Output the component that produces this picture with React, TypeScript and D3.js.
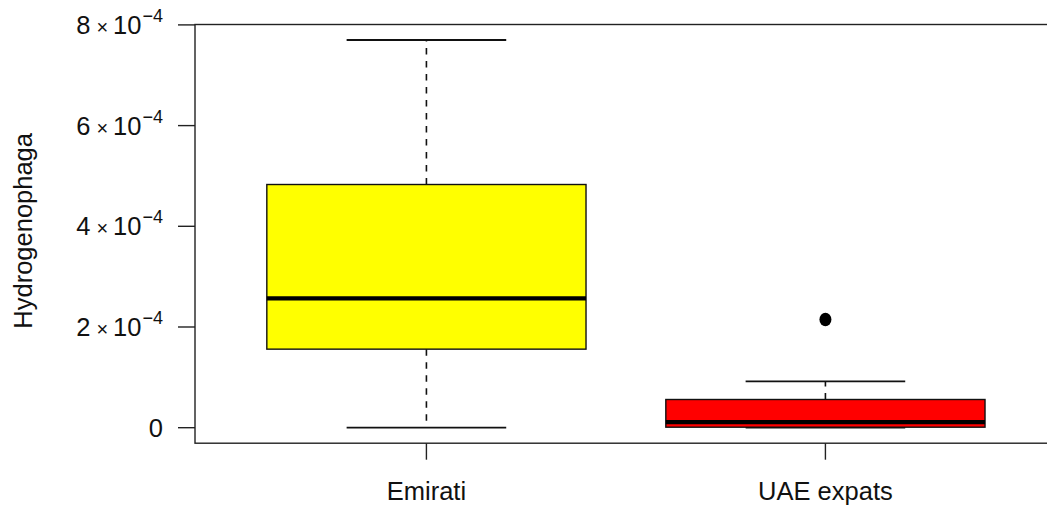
import React from "react";
import * as d3 from "d3";

// Box statistics per group
const groups: string[] = ["Emirati", "UAE expats"];
const lowerWhisker: number[] = [0, 0];
const q1: number[] = [1.56e-4, 0.01e-4];
const medians: number[] = [2.57e-4, 0.11e-4];
const q3: number[] = [4.83e-4, 0.56e-4];
const upperWhisker: number[] = [7.7e-4, 0.92e-4];
const outliers: number[][] = [[], [2.15e-4]];
const fills: string[] = ["#FFFF00", "#FF0000"];

// Y axis ticks: value, mantissa, exponent
const yTickValues: number[] = [0, 2e-4, 4e-4, 6e-4, 8e-4];
const yTickMantissa: string[] = ["0", "2", "4", "6", "8"];
const yTickExponent: string = "\u22124";
const yLabel = "Hydrogenophaga";

const W = 1047;
const H = 506;
const FONT = "'Liberation Sans', Arial, Helvetica, sans-serif";
const FS = 25.5;

export default function App() {
  const left = 195;
  const top = 24.5;
  const bottom = 443.2;
  const unit = 399;
  const right = left + 2.16 * unit;

  const x = d3.scaleLinear().domain([0.42, 2.58]).range([left, right]);

  const allVals = [...lowerWhisker, ...upperWhisker, ...outliers.flat()];
  const lo = d3.min(allVals) as number;
  const hi = d3.max(allVals) as number;
  const pad = (hi - lo) * 0.04;
  const y = d3.scaleLinear().domain([lo - pad, hi + pad]).range([bottom, top]);

  const boxHalf = 0.4;
  const capHalf = 0.2;
  const stroke = "#111";

  return (
    <svg
      width={W}
      height={H}
      style={{ position: "absolute", left: 0, top: 0, background: "#fff" }}
      fontFamily={FONT}
    >
      {/* plot frame */}
      <rect
        x={left}
        y={top}
        width={right - left}
        height={bottom - top}
        fill="none"
        stroke="#222"
        strokeWidth={1.4}
      />

      {groups.map((g, i) => {
        const cx = x(i + 1);
        const bx0 = x(i + 1 - boxHalf);
        const bx1 = x(i + 1 + boxHalf);
        const cx0 = x(i + 1 - capHalf);
        const cx1 = x(i + 1 + capHalf);
        return (
          <g key={g}>
            {/* whiskers */}
            <line
              x1={cx}
              x2={cx}
              y1={y(q3[i])}
              y2={y(upperWhisker[i])}
              stroke={stroke}
              strokeWidth={1.6}
              strokeDasharray="6.5,6.5"
            />
            <line
              x1={cx}
              x2={cx}
              y1={y(q1[i])}
              y2={y(lowerWhisker[i])}
              stroke={stroke}
              strokeWidth={1.6}
              strokeDasharray="6.5,6.5"
            />
            {/* staples */}
            <line x1={cx0} x2={cx1} y1={y(upperWhisker[i])} y2={y(upperWhisker[i])} stroke={stroke} strokeWidth={1.8} />
            <line x1={cx0} x2={cx1} y1={y(lowerWhisker[i])} y2={y(lowerWhisker[i])} stroke={stroke} strokeWidth={1.8} />
            {/* box */}
            <rect
              x={bx0}
              y={y(q3[i])}
              width={bx1 - bx0}
              height={y(q1[i]) - y(q3[i])}
              fill={fills[i]}
              stroke={stroke}
              strokeWidth={1.4}
            />
            {/* median */}
            <line x1={bx0} x2={bx1} y1={y(medians[i])} y2={y(medians[i])} stroke="#000" strokeWidth={4.2} />
            {/* outliers */}
            {outliers[i].map((v, j) => (
              <ellipse key={j} cx={cx} cy={y(v)} rx={6} ry={6.8} fill="#000" />
            ))}
            {/* x tick and label */}
            <line x1={cx} x2={cx} y1={bottom} y2={bottom + 16.5} stroke="#222" strokeWidth={1.4} />
            <text x={cx} y={500} textAnchor="middle" fontSize={FS} fill="#111">
              {g}
            </text>
          </g>
        );
      })}

      {/* y axis ticks and labels */}
      {yTickValues.map((v, i) => {
        const ty = y(v);
        return (
          <g key={v}>
            <line x1={left - 17} x2={left} y1={ty} y2={ty} stroke="#222" strokeWidth={1.4} />
            {v === 0 ? (
              <text x={163} y={ty + 9} textAnchor="end" fontSize={FS} fill="#111">
                {yTickMantissa[i]}
              </text>
            ) : (
              <text x={163} y={ty + 9} textAnchor="end" fontSize={FS} fill="#111">
                <tspan>{yTickMantissa[i]}</tspan>
                <tspan fontSize={20} dx={6}>{"\u00D7"}</tspan>
                <tspan dx={5}>10</tspan>
                <tspan fontSize={18} dx={1} dy={-12}>{yTickExponent}</tspan>
              </text>
            )}
          </g>
        );
      })}

      {/* y axis title */}
      <text
        transform={`translate(32, ${(top + bottom) / 2 - 3}) rotate(-90)`}
        textAnchor="middle"
        fontSize={FS}
        fill="#111"
      >
        {yLabel}
      </text>
    </svg>
  );
}
